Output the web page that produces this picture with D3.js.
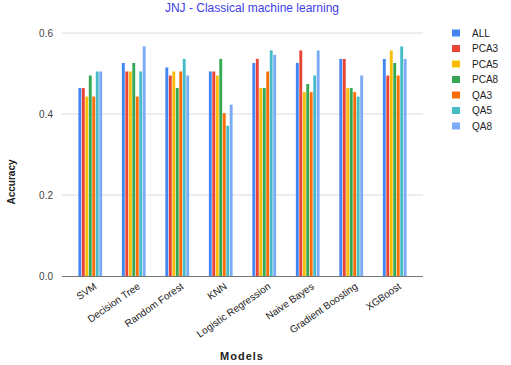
<!DOCTYPE html>
<html>
<head>
<meta charset="utf-8">
<script src="https://cdn.jsdelivr.net/npm/d3@7"></script>
<style>
  body { margin: 0; background: #fff; }
  svg { font-family: "Liberation Sans", Arial, sans-serif; display: block; }
</style>
</head>
<body>
<script>
// chart data
const models = ["SVM", "Decision Tree", "Random Forest", "KNN", "Logistic Regression", "Naive Bayes", "Gradient Boosting", "XGBoost"];
const seriesNames = ["ALL", "PCA3", "PCA5", "PCA8", "QA3", "QA5", "QA8"];
const ALL  = [0.464, 0.526, 0.515, 0.505, 0.526, 0.526, 0.536, 0.536];
const PCA3 = [0.464, 0.505, 0.495, 0.505, 0.536, 0.557, 0.536, 0.495];
const PCA5 = [0.443, 0.505, 0.505, 0.495, 0.464, 0.454, 0.464, 0.557];
const PCA8 = [0.495, 0.526, 0.464, 0.536, 0.464, 0.474, 0.464, 0.526];
const QA3  = [0.443, 0.443, 0.505, 0.402, 0.505, 0.454, 0.454, 0.495];
const QA5  = [0.505, 0.505, 0.536, 0.371, 0.557, 0.495, 0.443, 0.567];
const QA8  = [0.505, 0.567, 0.495, 0.423, 0.546, 0.557, 0.495, 0.536];
const yTicks = [0, 0.2, 0.4, 0.6];
const colors = ["#4285f4", "#ea4335", "#fbbc04", "#34a853", "#ff6d01", "#46bdc6", "#7baaf7"];

const seriesValues = [ALL, PCA3, PCA5, PCA8, QA3, QA5, QA8];

const width = 511, height = 365;
const plotLeft = 62, plotRight = 423, plotTop = 33, plotBottom = 276;

const svg = d3.select("body").append("svg")
    .attr("width", width)
    .attr("height", height);

const x = d3.scaleBand()
    .domain(models)
    .range([plotLeft, plotRight])
    .paddingInner(0.44)
    .paddingOuter(0.37);

const xs = d3.scaleBand()
    .domain(seriesNames)
    .range([0, x.bandwidth()]);

const y = d3.scaleLinear()
    .domain([0, 0.6])
    .range([plotBottom, plotTop]);

// gridlines
svg.append("g")
  .selectAll("line")
  .data(yTicks.filter(d => d > 0))
  .join("line")
    .attr("x1", plotLeft).attr("x2", plotRight)
    .attr("y1", d => y(d)).attr("y2", d => y(d))
    .attr("stroke", "#dcdcdc")
    .attr("stroke-width", 1);

// y labels
svg.append("g")
  .selectAll("text")
  .data(yTicks)
  .join("text")
    .attr("x", 53)
    .attr("y", d => y(d))
    .attr("dy", "0.35em")
    .attr("text-anchor", "end")
    .attr("font-size", 10)
    .attr("fill", "#444")
    .text(d => d.toFixed(1));

// bars
const groups = svg.append("g")
  .selectAll("g")
  .data(models)
  .join("g")
    .attr("transform", d => `translate(${x(d)},0)`);

groups.selectAll("rect")
  .data((m, i) => seriesNames.map((s, j) => ({s, j, v: seriesValues[j][i]})))
  .join("rect")
    .attr("x", d => xs(d.s) + 0.3)
    .attr("width", xs.bandwidth() - 0.6)
    .attr("y", d => y(d.v))
    .attr("height", d => y(0) - y(d.v))
    .attr("fill", d => colors[d.j]);

// baseline
svg.append("line")
    .attr("x1", plotLeft).attr("x2", plotRight)
    .attr("y1", plotBottom + 0.5).attr("y2", plotBottom + 0.5)
    .attr("stroke", "#777")
    .attr("stroke-width", 1);

// x labels
svg.append("g")
  .selectAll("text")
  .data(models)
  .join("text")
    .attr("transform", d => `translate(${x(d) + x.bandwidth() / 2 + 5},${plotBottom + 9}) rotate(-35)`)
    .attr("text-anchor", "end")
    .attr("dy", "0.35em")
    .attr("font-size", 10)
    .attr("fill", "#222")
    .text(d => d);

// title
svg.append("text")
    .attr("x", 252)
    .attr("y", 12)
    .attr("text-anchor", "middle")
    .attr("font-size", 12)
    .attr("fill", "#4040e8")
    .text("JNJ - Classical machine learning");

// axis titles
svg.append("text")
    .attr("transform", "translate(15,182) rotate(-90)")
    .attr("text-anchor", "middle")
    .attr("font-size", 10)
    .attr("font-weight", "bold")
    .attr("fill", "#222")
    .text("Accuracy");

svg.append("text")
    .attr("x", 242)
    .attr("y", 360)
    .attr("text-anchor", "middle")
    .attr("font-size", 11)
    .attr("font-weight", "bold")
    .attr("letter-spacing", 1)
    .attr("fill", "#222")
    .text("Models");

// legend
const legend = svg.append("g")
  .selectAll("g")
  .data(seriesNames)
  .join("g")
    .attr("transform", (d, i) => `translate(452,${33 + i * 15.5})`);

legend.append("rect")
    .attr("x", 0).attr("y", -3.5)
    .attr("width", 8).attr("height", 7)
    .attr("fill", (d, i) => colors[i]);

legend.append("text")
    .attr("x", 20)
    .attr("dy", "0.35em")
    .attr("font-size", 10)
    .attr("fill", "#222")
    .text(d => d);
</script>
</body>
</html>
